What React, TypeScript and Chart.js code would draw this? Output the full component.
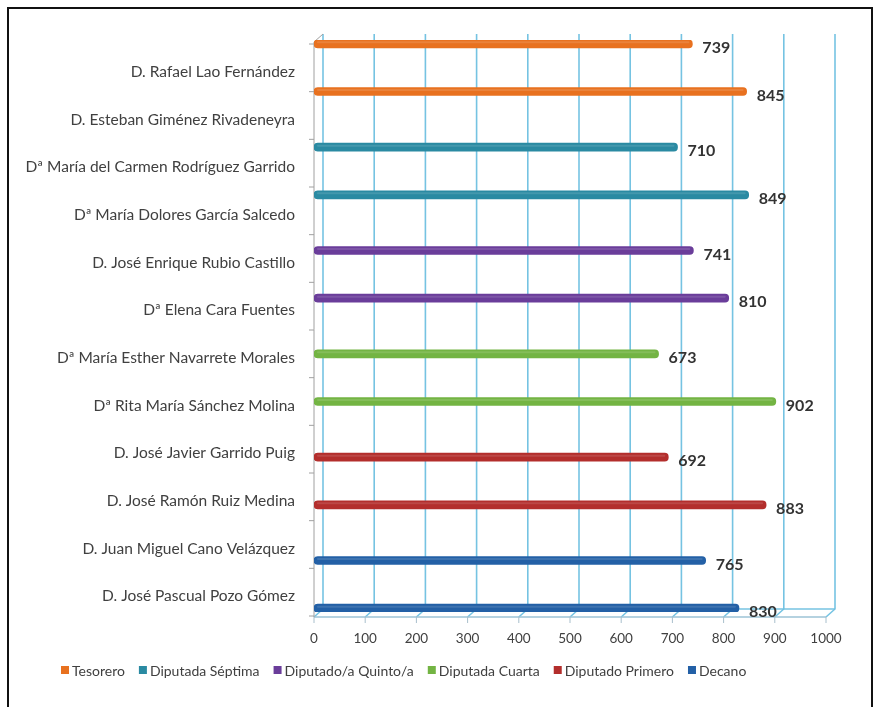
import React, { useEffect, useRef } from 'react';
import { Chart, registerables } from 'chart.js';

Chart.register(...registerables);

const FONT = "Lato, 'Open Sans', sans-serif";

const categories = [
  'D. Rafael Lao Fernández',
  'D. Esteban Giménez Rivadeneyra',
  'Dª María del Carmen Rodríguez Garrido',
  'Dª María Dolores García Salcedo',
  'D. José Enrique Rubio Castillo',
  'Dª Elena Cara Fuentes',
  'Dª María Esther Navarrete Morales',
  'Dª Rita María Sánchez Molina',
  'D. José Javier Garrido Puig',
  'D. José Ramón Ruiz Medina',
  'D. Juan Miguel Cano Velázquez',
  'D. José Pascual Pozo Gómez',
];

const seriesNames = [
  'Tesorero',
  'Diputada Séptima',
  'Diputado/a Quinto/a',
  'Diputada Cuarta',
  'Diputado Primero',
  'Decano',
];

const seriesColors = ['#E8711F', '#2A8AA2', '#6A3D9A', '#73B443', '#B32E2C', '#2360A6'];

const tesorero = [739, 845, null, null, null, null, null, null, null, null, null, null];
const diputadaSeptima = [null, null, 710, 849, null, null, null, null, null, null, null, null];
const diputadoQuinto = [null, null, null, null, 741, 810, null, null, null, null, null, null];
const diputadaCuarta = [null, null, null, null, null, null, 673, 902, null, null, null, null];
const diputadoPrimero = [null, null, null, null, null, null, null, null, 692, 883, null, null];
const decano = [null, null, null, null, null, null, null, null, null, null, 765, 830];

const seriesValues = [tesorero, diputadaSeptima, diputadoQuinto, diputadaCuarta, diputadoPrimero, decano];

const xTicks = [0, 100, 200, 300, 400, 500, 600, 700, 800, 900, 1000];

const DEPTH_X = 9;
const DEPTH_Y = 8;
const GRID_COLOR = 'rgba(110, 192, 224, 0.95)';

const threeDPlugin = {
  id: 'threeD',
  beforeDatasetsDraw(chart: any) {
    const { ctx, chartArea: a, scales } = chart;
    const x = scales.x;
    const frontY = a.bottom + 5;
    const backY = frontY - DEPTH_Y;
    const topY = a.top - 6;
    ctx.save();
    ctx.lineWidth = 1.6;
    ctx.strokeStyle = GRID_COLOR;
    xTicks.forEach((v) => {
      const xf = x.getPixelForValue(v);
      const xb = xf + DEPTH_X;
      ctx.beginPath();
      ctx.moveTo(xb, topY);
      ctx.lineTo(xb, backY);
      ctx.lineTo(xf, frontY);
      ctx.stroke();
    });
    const x0 = x.getPixelForValue(xTicks[0]);
    const x1 = x.getPixelForValue(xTicks[xTicks.length - 1]);
    ctx.beginPath();
    ctx.moveTo(x0 + DEPTH_X, backY);
    ctx.lineTo(x1 + DEPTH_X, backY);
    ctx.stroke();
    ctx.strokeStyle = '#9cc3d6';
    ctx.lineWidth = 1.4;
    ctx.beginPath();
    ctx.moveTo(x0, frontY);
    ctx.lineTo(x1, frontY);
    ctx.stroke();
    // left wall axis
    ctx.strokeStyle = '#a0a0a0';
    ctx.lineWidth = 1;
    ctx.beginPath();
    ctx.moveTo(x0 + DEPTH_X, topY);
    ctx.lineTo(x0, topY + DEPTH_Y);
    ctx.lineTo(x0, frontY);
    ctx.stroke();
    // category ticks
    const n = categories.length;
    for (let i = 0; i <= n; i++) {
      const yy = a.top + (i * a.height) / n + 4;
      ctx.beginPath();
      ctx.moveTo(x0 - 5, yy);
      ctx.lineTo(x0, yy);
      ctx.stroke();
    }
    // x ticks
    ctx.strokeStyle = '#a8bfcc';
    xTicks.forEach((v) => {
      const xf = x.getPixelForValue(v);
      ctx.beginPath();
      ctx.moveTo(xf, frontY);
      ctx.lineTo(xf, frontY + 6);
      ctx.stroke();
    });
    ctx.restore();
  },
  afterDatasetsDraw(chart: any) {
    const { ctx } = chart;
    ctx.save();
    chart.data.datasets.forEach((ds: any, di: number) => {
      const meta = chart.getDatasetMeta(di);
      meta.data.forEach((el: any, i: number) => {
        const v = ds.data[i];
        if (v === null || v === undefined) return;
        const left = Math.min(el.base, el.x);
        const w = Math.abs(el.x - el.base);
        // subtle cylinder highlight
        ctx.fillStyle = 'rgba(255,255,255,0.12)';
        ctx.beginPath();
        ctx.roundRect(left + 3, el.y - 2.5, w - 6, 2, 1);
        ctx.fill();
        ctx.fillStyle = '#333333';
        ctx.font = `bold 16px ${FONT}`;
        ctx.textAlign = 'left';
        ctx.textBaseline = 'middle';
        ctx.fillText(String(v), el.x + 10, el.y + 4);
      });
    });
    ctx.restore();
  },
  afterDraw(chart: any) {
    const { ctx } = chart;
    ctx.save();
    ctx.font = `14px ${FONT}`;
    const box = 8;
    const gapBT = 3;
    const gapItems = 14;
    const widths = seriesNames.map((nm) => box + gapBT + ctx.measureText(nm).width);
    let xx = 52;
    const yy = 661;
    seriesNames.forEach((nm, i) => {
      ctx.fillStyle = seriesColors[i];
      ctx.fillRect(xx, yy - box / 2, box, box);
      ctx.fillStyle = '#404040';
      ctx.textAlign = 'left';
      ctx.textBaseline = 'middle';
      ctx.fillText(nm, xx + box + gapBT, yy + 1);
      xx += widths[i] + gapItems;
    });
    ctx.restore();
  },
};

export default function App() {
  const ref = useRef<HTMLCanvasElement | null>(null);

  useEffect(() => {
    if (!ref.current) return;
    const chart = new Chart(ref.current, {
      type: 'bar',
      data: {
        labels: categories,
        datasets: seriesNames.map((name, i) => ({
          label: name,
          data: seriesValues[i],
          backgroundColor: seriesColors[i],
          borderRadius: 4,
          borderSkipped: false,
          barThickness: 8,
        })),
      },
      options: {
        indexAxis: 'y',
        animation: false,
        responsive: false,
        layout: { padding: { top: 31, right: 45, bottom: 50, left: 0 } },
        plugins: {
          legend: { display: false },
          tooltip: { enabled: false },
        },
        scales: {
          x: {
            min: 0,
            max: 1000,
            afterBuildTicks: (scale: any) => {
              scale.ticks = xTicks.map((v) => ({ value: v }));
            },
            afterFit: (scale: any) => {
              scale.height = 45;
            },
            grid: { display: false, drawTicks: false },
            border: { display: false },
            ticks: {
              padding: 19,
              color: '#404040',
              font: { family: FONT, size: 13.5 },
              callback: (value: any) => String(value),
            },
          },
          y: {
            afterFit: (scale: any) => {
              scale.width = 305;
            },
            grid: { display: false, drawTicks: false },
            border: { display: false },
            ticks: {
              padding: 19,
              labelOffset: 8,
              color: '#404040',
              font: { family: FONT, size: 15.5 },
            },
          },
        },
      },
      plugins: [threeDPlugin],
    });
    return () => chart.destroy();
  }, []);

  return (
    <div
      style={{
        position: 'absolute',
        left: 7,
        top: 7,
        width: 866,
        height: 700,
        boxSizing: 'border-box',
        border: '2px solid #111',
        borderBottom: 'none',
        background: '#fff',
      }}
    >
      <canvas ref={ref} width={862} height={698} style={{ display: 'block' }} />
    </div>
  );
}
